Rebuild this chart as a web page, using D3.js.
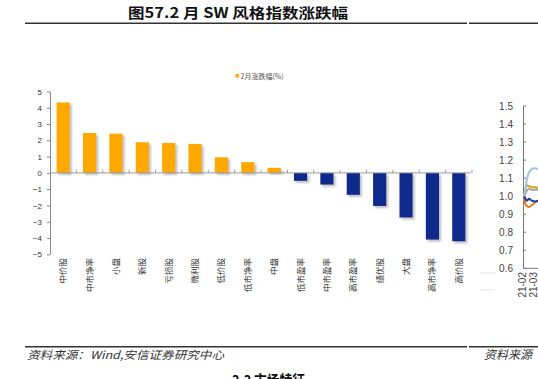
<!DOCTYPE html>
<html>
<head>
<meta charset="utf-8">
<script src="https://cdn.jsdelivr.net/npm/d3@7"></script>
<style>
  html, body { margin: 0; padding: 0; background: #fff; }
  svg { display: block; }
  text { font-family: "Liberation Sans", Arial, "Noto Sans CJK SC", sans-serif; }
  .cjk { font-family: "Noto Sans CJK SC", sans-serif; }
</style>
</head>
<body>
<div id="chart"></div>
<script>
// --- data ---
const categories = ['中价股', '中市净率', '小盘', '新股', '亏损股', '微利股', '低价股', '低市净率',
  '中盘', '低市盈率', '中市盈率', '高市盈率', '绩优股', '大盘', '高市净率', '高价股']
const changes = [4.33, 2.45, 2.41, 1.88, 1.84, 1.78, 0.96, 0.66, 0.31,
  -0.49, -0.72, -1.35, -2.03, -2.74, -4.10, -4.20]
const yTicks = [5, 4, 3, 2, 1, 0, -1, -2, -3, -4, -5]
const seriesName = '2月涨跌幅(%)'

// neighbouring chart (cut off at the right edge)
const sideTicks = [1.5, 1.4, 1.3, 1.2, 1.1, 1.0, 0.9, 0.8, 0.7, 0.6]
const sideMonths = ['21-02', '21-03']
const sideT = [0, 0.1, 0.25, 0.45, 0.7, 1.0, 1.3]
const sideLightBlue = [1.00, 1.03, 1.09, 1.13, 1.15, 1.155, 1.15]
const sideGold = [1.00, 1.03, 1.06, 1.055, 1.05, 1.05, 1.045]
const sideGray = [1.00, 1.01, 1.03, 1.04, 1.035, 1.035, 1.035]
const sideNavy = [1.00, 0.99, 0.975, 0.985, 0.975, 0.97, 0.975]
const sideOrange = [0.99, 0.96, 0.945, 0.94, 0.95, 0.965, 0.975]

const width = 538
const height = 379

const svg = d3.select('#chart').append('svg')
  .attr('width', width)
  .attr('height', height)

const defs = svg.append('defs')
defs.append('filter').attr('id', 'shadow')
  .attr('x', '-30%').attr('y', '-30%').attr('width', '160%').attr('height', '160%')
  .append('feDropShadow')
    .attr('dx', 2).attr('dy', 2).attr('stdDeviation', 1)
    .attr('flood-color', '#888').attr('flood-opacity', 0.55)

// --- header ---
svg.append('text')
  .attr('class', 'cjk')
  .attr('x', 128).attr('y', 18)
  .attr('textLength', 220).attr('lengthAdjust', 'spacingAndGlyphs')
  .attr('font-size', 14).attr('font-weight', 'bold').attr('fill', '#111')
  .text('图57.2 月 SW 风格指数涨跌幅')

svg.append('rect').attr('x', 25).attr('y', 22.5).attr('width', 442).attr('height', 1.5).attr('fill', '#333')
svg.append('rect').attr('x', 469).attr('y', 22.5).attr('width', 69).attr('height', 1.5).attr('fill', '#333')

// --- main chart ---
const x = d3.scaleBand()
  .domain(categories)
  .range([50, 472])
  .paddingInner(0.5)
  .paddingOuter(0.25)

const y = d3.scaleLinear()
  .domain([-5, 5])
  .range([254.3, 91.5])

const yAxis = svg.append('g')
  .attr('transform', 'translate(50,0)')
  .call(d3.axisLeft(y).tickValues(yTicks).tickSize(3).tickSizeOuter(0).tickFormat(d3.format('d')))
yAxis.select('.domain').attr('stroke', '#888')
yAxis.selectAll('.tick line').attr('stroke', '#888')
yAxis.selectAll('.tick text')
  .attr('font-size', 8).attr('fill', '#333')
  .attr('x', -8)

// bars
svg.append('g')
  .selectAll('rect')
  .data(changes)
  .join('rect')
    .attr('x', (d, i) => x(categories[i]))
    .attr('width', x.bandwidth())
    .attr('y', d => y(Math.max(0, d)))
    .attr('height', d => Math.abs(y(d) - y(0)))
    .attr('fill', d => d >= 0 ? '#FFA800' : '#0F2A8C')
    .attr('filter', 'url(#shadow)')

// zero line with ticks between categories
const zero = svg.append('g')
zero.append('line')
  .attr('x1', 50).attr('x2', 471)
  .attr('y1', y(0)).attr('y2', y(0))
  .attr('stroke', '#999')
zero.selectAll('.sep')
  .data(categories.slice(1).concat(['end']))
  .join('line')
    .attr('class', 'sep')
    .attr('x1', (d, i) => 50 + (i + 1) * x.step())
    .attr('x2', (d, i) => 50 + (i + 1) * x.step())
    .attr('y1', y(0) - 3).attr('y2', y(0))
    .attr('stroke', '#999')

// category labels
svg.append('g')
  .selectAll('text')
  .data(categories)
  .join('text')
    .attr('class', 'cjk')
    .attr('transform', d => `translate(${x(d) + x.bandwidth() / 2 + 3},258) rotate(-90)`)
    .attr('text-anchor', 'end')
    .attr('font-size', 8.5).attr('fill', '#333')
    .text(d => d)

// legend
svg.append('rect').attr('x', 235.5).attr('y', 74).attr('width', 3.5).attr('height', 3.5).attr('fill', '#FFA800')
svg.append('text')
  .attr('class', 'cjk')
  .attr('x', 240.5).attr('y', 78.5)
  .attr('font-size', 7).attr('fill', '#555')
  .text(seriesName)

// --- neighbouring chart, clipped at the edge ---
const sx = d3.scaleLinear().domain([0, 1]).range([524, 535])
const sy = d3.scaleLinear().domain([0.6, 1.5]).range([268.3, 106])

const side = svg.append('g')
side.append('line').attr('x1', 523.5).attr('x2', 523.5).attr('y1', 106).attr('y2', 268.3).attr('stroke', '#777')
side.append('line').attr('x1', 523.5).attr('x2', 538).attr('y1', 268.3).attr('y2', 268.3).attr('stroke', '#777')
side.selectAll('.stick')
  .data(sideTicks)
  .join('line')
    .attr('x1', 523.5).attr('x2', 526)
    .attr('y1', d => sy(d)).attr('y2', d => sy(d))
    .attr('stroke', '#777')
side.selectAll('.slab')
  .data(sideTicks)
  .join('text')
    .attr('x', 513).attr('y', d => sy(d) + 3.5)
    .attr('text-anchor', 'end')
    .attr('font-size', 10).attr('fill', '#444')
    .text(d => d.toFixed(1))
side.selectAll('.mlab')
  .data(sideMonths)
  .join('text')
    .attr('transform', (d, i) => `translate(${sx(i) + 2},272) rotate(-90)`)
    .attr('text-anchor', 'end')
    .attr('font-size', 10).attr('fill', '#444')
    .text(d => d)

const line = d3.line()
  .x((d, i) => sx(sideT[i]))
  .y(d => sy(d))
  .curve(d3.curveMonotoneX)

const sideSeries = [
  { values: sideOrange, color: '#E8731E' },
  { values: sideNavy, color: '#1F3C99' },
  { values: sideGray, color: '#A6A6A6' },
  { values: sideGold, color: '#D6A21E' },
  { values: sideLightBlue, color: '#9DC3E6' }
]
side.selectAll('.sline')
  .data(sideSeries)
  .join('path')
    .attr('d', d => line(d.values))
    .attr('fill', 'none')
    .attr('stroke', d => d.color)
    .attr('stroke-width', 2)

// faint lines left of the neighbouring chart
svg.append('line').attr('x1', 480).attr('x2', 495).attr('y1', 273).attr('y2', 273).attr('stroke', '#e2e2e2')
svg.append('line').attr('x1', 480).attr('x2', 495).attr('y1', 290).attr('y2', 290).attr('stroke', '#e2e2e2')

// --- footer ---
svg.append('rect').attr('x', 25).attr('y', 346).attr('width', 442).attr('height', 1.5).attr('fill', '#333')
svg.append('rect').attr('x', 469).attr('y', 346).attr('width', 69).attr('height', 1.5).attr('fill', '#333')

svg.append('text')
  .attr('class', 'cjk')
  .attr('x', 27).attr('y', 359)
  .attr('textLength', 197).attr('lengthAdjust', 'spacingAndGlyphs')
  .attr('font-size', 11).attr('font-style', 'italic').attr('fill', '#333')
  .text('资料来源：Wind,安信证券研究中心')

svg.append('text')
  .attr('class', 'cjk')
  .attr('x', 484).attr('y', 359)
  .attr('font-size', 12).attr('font-style', 'italic').attr('fill', '#333')
  .text('资料来源')

svg.append('text')
  .attr('class', 'cjk')
  .attr('x', 232).attr('y', 386)
  .attr('textLength', 73).attr('lengthAdjust', 'spacingAndGlyphs')
  .attr('font-size', 15).attr('font-weight', 'bold').attr('fill', '#111')
  .text('3.3 市场特征')
</script>
</body>
</html>
